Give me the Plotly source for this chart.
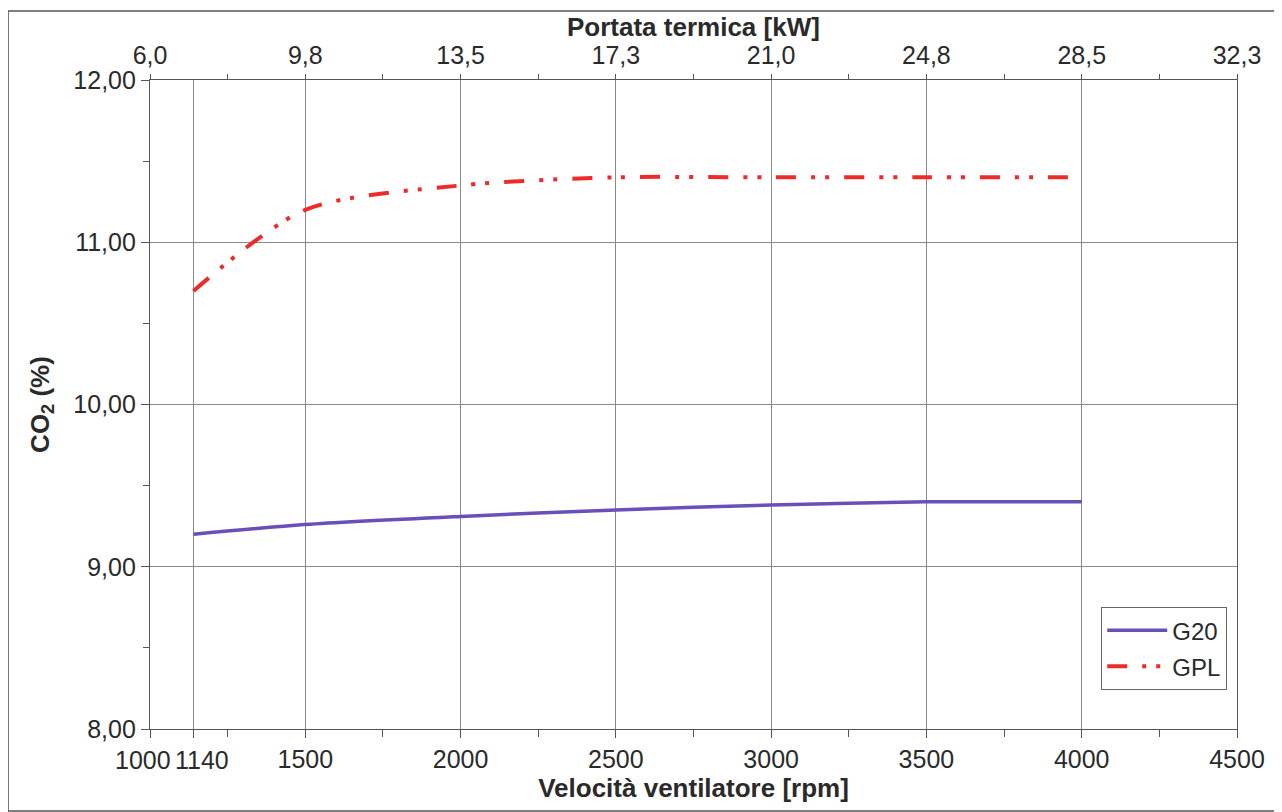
"""
CO2 vs velocità ventilatore (G20 / GPL), con asse superiore in portata termica.
"""

import plotly.graph_objects as go

# ------------------------------------------------------------
# Dati
# ------------------------------------------------------------
RPM = [1140, 1500, 2000, 2500, 3000, 3500, 4000]
CO2_G20 = [9.20, 9.26, 9.31, 9.35, 9.38, 9.40, 9.40]
CO2_GPL = [10.70, 11.20, 11.35, 11.40, 11.40, 11.40, 11.40]

RPM_TICKS = [1000, 1140, 1500, 2000, 2500, 3000, 3500, 4000, 4500]
RPM_LABELS = ["", "", "1500", "2000", "2500", "3000", "3500", "4000", "4500"]
# le prime due etichette (1000, 1140) sono accostate come nell'originale
RPM_ETICH_SX = [(1000, "1000", "right", 23), (1140, "1140", "left", -20)]
RPM_MINOR = [1250, 1750, 2250, 2750, 3250, 3750, 4250]

KW_TICKS_RPM = [1000, 1500, 2000, 2500, 3000, 3500, 4000, 4500]
KW_LABELS = ["6,0", "9,8", "13,5", "17,3", "21,0", "24,8", "28,5", "32,3"]

CO2_MINOR = [8.5, 9.5, 10.5, 11.5]

# Colori
COR_G20 = "#6A4FB8"
COR_GPL = "#EE2B2B"
COR_TESTO = "#2A2A2A"
COR_ASSE = "#555555"
COR_GRIGLIA = "#8A8A8A"

FONT = "Liberation Sans, Arial, sans-serif"
TICK_SIZE = 25

fig = go.Figure()

fig.add_trace(go.Scatter(
    x=RPM, y=CO2_G20,
    mode="lines", name="G20",
    line=dict(color=COR_G20, width=3.5, shape="spline", smoothing=0.8),
    legendgroup="g20",
))
fig.add_trace(go.Scatter(
    x=RPM, y=CO2_GPL,
    mode="lines", name="GPL",
    line=dict(color=COR_GPL, width=4, shape="spline", smoothing=0.8,
              dash="20px,15px,4px,10px,4px,15px"),
    legendgroup="gpl",
))
# traccia invisibile per attivare l'asse superiore
fig.add_trace(go.Scatter(
    x=RPM, y=CO2_G20, xaxis="x2",
    mode="lines", line=dict(width=0), opacity=0,
    showlegend=False, hoverinfo="skip",
))

for valore, testo, ancora, sposta in RPM_ETICH_SX:
    fig.add_annotation(
        x=valore, y=0, xref="x", yref="paper",
        text=testo, showarrow=False,
        xanchor=ancora, yanchor="top", xshift=sposta, yshift=-15,
        font=dict(family=FONT, size=TICK_SIZE, color=COR_TESTO),
    )

# titolo dell'asse superiore
fig.add_annotation(
    x=0.5, y=1, xref="paper", yref="paper",
    text="<b>Portata termica [kW]</b>", showarrow=False,
    xanchor="center", yanchor="bottom", yshift=36,
    font=dict(family=FONT, size=26, color=COR_TESTO),
)

assi_comuni = dict(
    showline=True, linecolor=COR_ASSE, linewidth=1.2,
    tickfont=dict(family=FONT, size=TICK_SIZE, color=COR_TESTO),
    tickcolor=COR_ASSE, zeroline=False,
)

fig.update_layout(
    width=1274, height=804,
    margin=dict(l=142, r=45, t=72, b=83),
    paper_bgcolor="white", plot_bgcolor="white",
    separators=",.",
    font=dict(family=FONT, color=COR_TESTO),
    xaxis=dict(
        range=[1000, 4500],
        tickmode="array", tickvals=RPM_TICKS, ticktext=RPM_LABELS,
        tickangle=0,
        ticks="outside", ticklen=8,
        showgrid=True, gridcolor=COR_GRIGLIA, gridwidth=1,
        minor=dict(tickmode="array", tickvals=RPM_MINOR, ticks="outside",
                   ticklen=7, tickcolor=COR_ASSE, showgrid=False),
        title=dict(text="<b>Velocità ventilatore [rpm]</b>",
                   font=dict(family=FONT, size=26, color=COR_TESTO), standoff=5),
        **assi_comuni,
    ),
    xaxis2=dict(
        overlaying="x", side="top", anchor="y",
        range=[1000, 4500],
        tickmode="array", tickvals=KW_TICKS_RPM, ticktext=KW_LABELS,
        tickangle=0,
        ticks="outside", ticklen=5,
        showgrid=False,
        minor=dict(tickmode="array", tickvals=RPM_MINOR, ticks="outside",
                   ticklen=5, tickcolor=COR_ASSE, showgrid=False),
        **assi_comuni,
    ),
    yaxis=dict(
        range=[8, 12], dtick=1, tick0=8, tickformat=".2f",
        ticks="outside", ticklen=8, mirror=True,
        showgrid=True, gridcolor=COR_GRIGLIA, gridwidth=1,
        minor=dict(tickmode="array", tickvals=CO2_MINOR, ticks="outside",
                   ticklen=6, tickcolor=COR_ASSE, showgrid=False),
        title=dict(text="<b>CO<sub>2</sub> (%)</b>",
                   font=dict(family=FONT, size=26, color=COR_TESTO), standoff=16),
        **assi_comuni,
    ),
    legend=dict(
        x=0.991, y=0.06, xanchor="right", yanchor="bottom",
        bgcolor="white", bordercolor="#666666", borderwidth=1,
        font=dict(family=FONT, size=24, color=COR_TESTO),
        traceorder="grouped", tracegroupgap=2, itemwidth=60,
    ),
    shapes=[dict(
        type="rect", xref="paper", yref="paper",
        x0=-0.1306, x1=1.06, y0=-0.1263, y1=1.1063,
        line=dict(color="#555555", width=1.5), layer="below",
    )],
)

fig.write_html("out.html")
